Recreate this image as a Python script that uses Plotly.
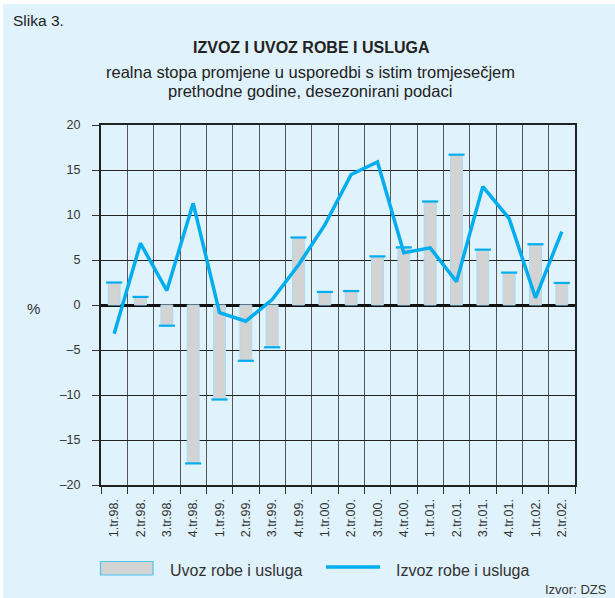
import plotly.graph_objects as go

# kvartali
quarters = ["1.tr.98.", "2.tr.98.", "3.tr.98.", "4.tr.98.",
            "1.tr.99.", "2.tr.99.", "3.tr.99.", "4.tr.99.",
            "1.tr.00.", "2.tr.00.", "3.tr.00.", "4.tr.00.",
            "1.tr.01.", "2.tr.01.", "3.tr.01.", "4.tr.01.",
            "1.tr.02.", "2.tr.02."]

# uvoz robe i usluga (stupci), %
uvoz = [2.5, 0.9, -2.3, -17.6, -10.5, -6.2, -4.7, 7.5, 1.45, 1.55,
        5.4, 6.4, 11.5, 16.7, 6.15, 3.6, 6.75, 2.45]

# izvoz robe i usluga (linija), %
izvoz = [-3.2, 6.85, 1.6, 11.3, -0.85, -1.8, 0.6, 4.45, 8.9, 14.5,
         15.9, 5.8, 6.35, 2.6, 13.15, 9.6, 0.8, 8.15]

y_ticks = [-20, -15, -10, -5, 0, 5, 10, 15, 20]
y_ticktext = [str(v).replace("-", "\u2013") for v in y_ticks]

BG = "#e0f2fb"
BLUE = "#00aeef"
GREY = "#d3d3d3"
FONT = "Liberation Sans, Arial, sans-serif"

# stranica je pomaknuta za (3, 4) px; plot područje na ekranu: x 101..575, y 125..485
OX, OY = 3, 4
PL, PR, PT, PB = 101, 575, 125, 485

fig = go.Figure()

fig.add_trace(go.Bar(
    x=quarters, y=uvoz, width=0.45,
    marker=dict(color=GREY, line=dict(color="#a8dcf2", width=1)),
    name="Uvoz robe i usluga",
))
# plavi rub na vrhu stupca
fig.add_trace(go.Scatter(
    x=quarters, y=uvoz, mode="markers",
    marker=dict(symbol="line-ew", size=11.5, line=dict(color=BLUE, width=2.2)),
    hoverinfo="skip",
))
fig.add_trace(go.Scatter(
    x=quarters, y=izvoz, mode="lines",
    line=dict(color=BLUE, width=3.5),
    name="Izvoz robe i usluga",
))

fig.update_layout(
    width=615, height=598,
    margin=dict(l=PL - OX, r=615 - (PR - OX), t=PT - OY, b=598 - (PB - OY)),
    paper_bgcolor=BG, plot_bgcolor=BG,
    showlegend=False,
    font=dict(family=FONT, size=12, color="#333333"),
    xaxis=dict(
        type="category", tickson="boundaries", tickangle=-90,
        showgrid=True, gridcolor="#555555", gridwidth=1,
        ticks="outside", ticklen=7, tickcolor="#333333",
        ticklabelstandoff=7,
        showline=True, linecolor="#222222", linewidth=2, mirror=True,
        range=[-0.5, 17.5], tickfont=dict(size=12.5, color="#333333"),
    ),
    yaxis=dict(
        range=[-20, 20], tickvals=y_ticks, ticktext=y_ticktext,
        showgrid=True, gridcolor="#222222", gridwidth=1,
        zeroline=True, zerolinecolor="#111111", zerolinewidth=2.5,
        ticks="outside", ticklen=7, tickcolor="#333333",
        ticklabelstandoff=9,
        showline=True, linecolor="#222222", linewidth=2, mirror=True,
        tickfont=dict(size=12.5, color="#333333"),
    ),
)


def px(sx):
    return (sx - PL) / (PR - PL)


def py(sy):
    return (PB - sy) / (PB - PT)


annotations = [
    ("Slika 3.", 11, 21, 15.5, "left"),
    ("<b>IZVOZ I UVOZ ROBE I USLUGA</b>", 311, 47, 16, "center"),
    ("realna stopa promjene u usporedbi s istim tromjesečjem", 310, 72, 16.5, "center"),
    ("prethodne godine, desezonirani podaci", 310, 91, 16.5, "center"),
    ("%", 33, 308, 15, "center"),
    ("Uvoz robe i usluga", 168, 570, 16, "left"),
    ("Izvoz robe i usluga", 394, 570, 16, "left"),
    ("Izvor: DZS", 609, 589, 13, "right"),
]
for text, sx, sy, size, anchor in annotations:
    color = "#222222" if sy < 100 else "#333333"
    fig.add_annotation(
        text=text, x=px(sx), y=py(sy), xref="paper", yref="paper",
        xanchor=anchor, yanchor="middle", showarrow=False,
        font=dict(family=FONT, size=size, color=color),
    )

# legenda
fig.add_shape(type="rect", xref="paper", yref="paper",
              x0=px(100.5), x1=px(153), y0=py(575), y1=py(561.5),
              fillcolor=GREY, line=dict(color="#4cc3f0", width=1.2))
fig.add_shape(type="line", xref="paper", yref="paper",
              x0=px(326), x1=px(380), y0=py(567), y1=py(567),
              line=dict(color=BLUE, width=3.5))

fig.write_html(
    "out.html",
    post_script="document.body.style.margin='4px 0 0 3px';"
                "document.body.style.overflow='hidden';"
                "document.documentElement.style.overflow='hidden';",
)
